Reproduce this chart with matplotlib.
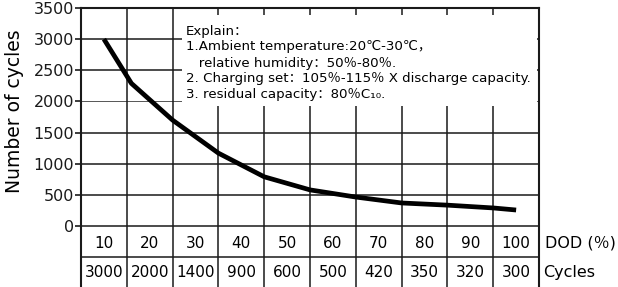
import matplotlib
matplotlib.use('Agg')
import matplotlib.pyplot as plt
from matplotlib.patches import Rectangle

# table rows
dod = [10, 20, 30, 40, 50, 60, 70, 80, 90, 100]
cycles = [3000, 2000, 1400, 900, 600, 500, 420, 350, 320, 300]

# points along the drawn curve
curve_dod = [10, 16, 25, 35, 45, 55, 65, 75, 85, 95, 100]
curve_cycles = [3000, 2290, 1700, 1170, 790, 580, 465, 370, 335, 290, 257]

yticks = [0, 500, 1000, 1500, 2000, 2500, 3000, 3500]

notes = [
    "Explain：",
    "1.Ambient temperature:20℃-30℃，",
    "   relative humidity：50％-80％.",
    "2. Charging set：105％-115％ X discharge capacity.",
    "3. residual capacity：80％C₁₀.",
]
note_y = [3130, 2890, 2617, 2376, 2119]

fam = ['DejaVu Sans', 'Noto Sans CJK SC']
plt.rcParams['font.family'] = fam

fig = plt.figure(figsize=(6.18, 2.87), dpi=100)
ax = fig.add_axes([0.1311, 0.0, 0.7411, 0.9721])
ax.set_xlim(5, 105)
ax.set_ylim(-979, 3500)

line_c = '#1a1a1a'
# horizontal grid + table row lines
for y in [-500, 0, 500, 1000, 1500, 2500, 3000]:
    ax.axhline(y, color=line_c, lw=1.1, zorder=1)
ax.axhline(2000, color='#555555', lw=0.7, zorder=1)
# vertical cell boundaries run through chart and table
for x in range(15, 100, 10):
    ax.axvline(x, color=line_c, lw=1.1, zorder=1)

# white note box covering part of the grid
ax.add_patch(Rectangle((27.0, 1930), 77.6, 1460, facecolor='white',
                       edgecolor='none', zorder=2))
for txt, y in zip(notes, note_y):
    ax.text(27.9, y, txt, fontsize=9.6, va='center', ha='left', zorder=3)

ax.plot(curve_dod, curve_cycles, color='black', lw=3.4,
        solid_joinstyle='round', solid_capstyle='butt', zorder=4)

# table text
for d, c in zip(dod, cycles):
    ax.text(d, -275, str(d), fontsize=11, ha='center', va='center')
    ax.text(d, -750, str(c), fontsize=11, ha='center', va='center')
ax.text(106.2, -275, "DOD (％)", fontsize=11.5, ha='left', va='center', clip_on=False)
ax.text(106.0, -750, "Cycles", fontsize=11.5, ha='left', va='center', clip_on=False)

for s in ['left', 'right', 'top']:
    ax.spines[s].set_linewidth(1.5)
    ax.spines[s].set_color(line_c)
ax.spines['bottom'].set_visible(False)

ax.set_xticks([])
ax.set_yticks(yticks)
ax.set_yticklabels([str(v) for v in yticks])
ax.tick_params(axis='y', direction='out', length=4, width=1.2, pad=1,
               labelsize=11.5, colors=line_c)
ax.set_ylabel("Number of cycles", fontsize=13.5, family='DejaVu Sans')
ax.yaxis.set_label_coords(-0.125, 0.631)

fig.savefig('out.png', dpi=100)
